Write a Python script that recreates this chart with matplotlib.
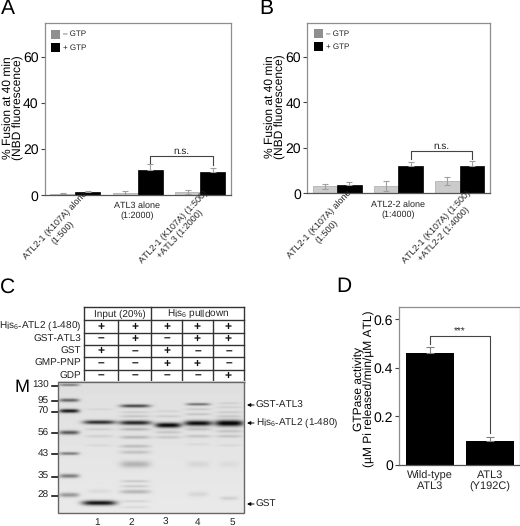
import matplotlib
matplotlib.use("Agg")
import matplotlib.pyplot as plt
import numpy as np

plt.rcParams['font.family'] = ['Liberation Sans', 'DejaVu Sans']
plt.rcParams['mathtext.default'] = 'regular'
plt.rcParams['text.hinting'] = 'no_hinting'
plt.rcParams['text.hinting_factor'] = 1

W, H = 520, 526

# panel A
a_minus = [0.7, 0.8, 1.5]
a_plus = [1.3, 11.0, 10.2]
a_minus_err = [0.3, 0.9, 1.0]
a_plus_err = [0.7, 2.5, 1.8]
# panel B
b_minus = [3.0, 3.4, 5.3]
b_plus = [3.5, 12.0, 11.8]
b_minus_err = [1.3, 2.2, 1.7]
b_plus_err = [1.3, 1.6, 2.2]
# panel D
d_vals = [0.46, 0.10]
d_err = [0.025, 0.017]
d_labels = ['Wild-type\nATL3', 'ATL3\n(Y192C)']

# panel C table
row_names = ['His$_6$-ATL2 (1-480)', 'GST-ATL3', 'GST', 'GMP-PNP', 'GDP']
row_signs = [['+', '+', '+', '+', '+'],
             ['–', '+', '–', '+', '+'],
             ['+', '–', '+', '–', '–'],
             ['–', '–', '+', '+', '–'],
             ['–', '–', '–', '–', '+']]
col_edges = [84.3, 118.3, 151.3, 182, 213, 244]
row_edges = [320.3, 332.7, 345, 357.3, 369.7, 382.3]
lane_x = [69, 99, 135, 168, 198, 229]
marker_kda = ['130', '95', '70', '56', '43', '35', '28']
marker_y = [385.7, 401, 411.7, 433.3, 454.3, 476.7, 495.7]
marker_dark = [0.4, 0.5, 0.8, 0.55, 0.42, 0.42, 0.32]
marker_thick = [1.2, 1.7, 1.9, 2.0, 1.5, 2.0, 2.2]
# lane index, half width, y, darkness, thickness
gel_bands = [
    (1, 16, 423, 0.72, 2.0), (2, 16, 423.5, 0.75, 2.2), (3, 13, 426, 0.88, 2.5),
    (4, 14, 424, 0.85, 2.6), (5, 14, 424, 0.92, 3.0),
    (1, 17, 503.7, 0.85, 2.4),
    (2, 15, 406.7, 0.62, 1.6), (4, 12, 405, 0.45, 1.3), (5, 11, 404, 0.08, 1.0),
    (1, 14, 410, 0.05, 1.0), (1, 14, 430, 0.09, 1.2), (1, 14, 437, 0.08, 1.4),
    (1, 13, 446, 0.05, 1.2), (1, 12, 492, 0.05, 2.0),
    (2, 15, 413, 0.08, 1.2), (2, 15, 417, 0.12, 1.2), (2, 15, 430, 0.18, 1.5),
    (2, 15, 438, 0.18, 1.6), (2, 15, 447, 0.16, 1.6), (2, 15, 453, 0.14, 1.8),
    (2, 15, 465, 0.2, 3.4), (2, 14, 482, 0.12, 1.2), (2, 14, 487, 0.12, 1.2),
    (2, 15, 492.5, 0.2, 2.0), (2, 14, 502, 0.08, 1.2), (2, 14, 508, 0.06, 1.2),
    (3, 13, 412, 0.06, 1.2), (3, 13, 417, 0.09, 1.2), (3, 13, 433, 0.12, 1.5),
    (3, 13, 438, 0.11, 1.5),
    (4, 13, 410, 0.09, 1.2), (4, 13, 415, 0.12, 1.2), (4, 13, 430, 0.13, 1.5),
    (4, 13, 437, 0.13, 1.5), (4, 12, 445, 0.05, 1.2), (4, 11, 465, 0.06, 3.0),
    (4, 10, 495, 0.07, 2.4),
    (5, 13, 408, 0.07, 1.2), (5, 13, 413, 0.09, 1.2), (5, 13, 417, 0.11, 1.2),
    (5, 13, 432, 0.13, 1.5), (5, 13, 437, 0.13, 1.5), (5, 12, 446, 0.05, 1.2),
    (5, 10, 465, 0.04, 3.0), (5, 9, 499, 0.1, 1.8),
]

fig = plt.figure(figsize=(W / 100, H / 100), dpi=100)
GR = '#8e8e8e'
LIGHT = '#cbcbcb'
LEG = '#8f8f8f'


def px_axes(left, right, top, bottom):
    return fig.add_axes([left / W, 1 - bottom / H, (right - left) / W, (bottom - top) / H])


def style(ax):
    for s in ax.spines.values():
        s.set_color(GR)
        s.set_linewidth(0.9)
    ax.spines['bottom'].set_color('#555555')
    ax.tick_params(axis='y', labelsize=10, length=3, width=0.8, color='#444444', pad=1.5)
    ax.set_xticks([])


def bars(ax, minus, plus, m_err, p_err):
    x = np.arange(3)
    ekw = dict(ecolor='#a0a0a0', elinewidth=0.8, capsize=2, capthick=0.8)
    ax.bar(x - 0.2, minus, 0.4, color=LIGHT, edgecolor='#aaaaaa', linewidth=0.5,
           yerr=m_err, error_kw=ekw)
    ax.bar(x + 0.2, plus, 0.4, color='black', edgecolor='black', linewidth=0.5,
           yerr=[[0, 0, 0], p_err], error_kw=ekw)
    ax.set_xlim(-0.49, 2.49)
    ax.set_ylim(0, 75)
    ax.set_yticks([0, 20, 40, 60])
    style(ax)


def bracket(ax, x0, x1, top, y0, y1, label, size=7):
    ax.plot([x0, x0, x1, x1], [y0, top, top, y1], color='#444444', lw=0.8)
    ax.text((x0 + x1) / 2, top, label, ha='center', va='bottom', fontsize=size, color='#222222')


ax_a = px_axes(44.7, 230.7, 22.7, 195.3)
bars(ax_a, a_minus, a_plus, a_minus_err, a_plus_err)
bracket(ax_a, 1.2, 2.2, 17, 14, 13, 'n.s.')

ax_b = px_axes(307, 489.7, 22.7, 193.3)
bars(ax_b, b_minus, b_plus, b_minus_err, b_plus_err)
bracket(ax_b, 1.2, 2.2, 18.7, 15.2, 15.2, 'n.s.')

ax_d = px_axes(399.3, 519.5, 307, 465)
ax_d.bar([0, 1], d_vals, 0.8, color='black', yerr=[[0, 0], d_err],
         error_kw=dict(ecolor='#808080', elinewidth=0.8, capsize=3, capthick=0.8))
ax_d.set_xlim(-0.52, 1.5)
ax_d.set_ylim(0, 0.651)
ax_d.set_yticks([0, 0.2, 0.4, 0.6], ['0', '0.2', '0.4', '0.6'])
style(ax_d)
bracket(ax_d, 0, 1, 0.53, 0.5, 0.13, '***', size=7)

# overlay in pixel coordinates for labels, table and gel
ov = fig.add_axes([0, 0, 1, 1], zorder=5)
ov.set_xlim(0, W)
ov.set_ylim(H, 0)
ov.axis('off')
ov.patch.set_alpha(0)

for t, x, y in [('A', 7.5, 8.5), ('B', 266, 8.5), ('C', 7.5, 287), ('D', 344, 287)]:
    ov.text(x, y, t, fontsize=15, ha='center', va='center')

for x0, y in [(7.5, 108), (269.5, 107)]:
    ov.text(x0, y, '% Fusion at 40 min', rotation=90, fontsize=8.3, ha='center', va='center')
    ov.text(x0 + 10.5, y, '(NBD fluorescence)', rotation=90, fontsize=8.3, ha='center', va='center')
ov.text(359, 389, 'GTPase activity', rotation=90, fontsize=8.3, ha='center', va='center')
ov.text(369.5, 389, '(µM Pi released/min/µM ATL)', rotation=90, fontsize=8.3, ha='center', va='center')

for x, y, c, t in [(51, 34, LEG, '– GTP'), (51, 47.5, 'black', '+ GTP'),
                   (313.5, 33.5, LEG, '– GTP'), (313.5, 46.5, 'black', '+ GTP')]:
    ov.add_patch(plt.Rectangle((x, y - 4.5), 9, 9, color=c, lw=0))
    ov.text(x + 12, y, t, fontsize=6.1, va='center', color='#222222')

xlabels = [
    ('ATL2-1 (K107A) alone\n(1:500)', 59, 229, 47), ('ATL3 alone\n(1:2000)', 137, 211, 0),
    ('ATL2-1 (K107A) (1:500)\n+ATL3 (1:2000)', 177, 231, 47),
    ('ATL2-1 (K107A) alone\n(1:500)', 323, 228, 47), ('ATL2-2 alone\n(1:4000)', 398, 210, 0),
    ('ATL2-1 (K107A) (1:500)\n+ATL2-2 (1:4000)', 440, 231, 47),
]
for t, x, y, r in xlabels:
    ov.text(x, y, t, rotation=r, fontsize=6.3, ha='center', va='center', multialignment='center',
            rotation_mode='anchor', color='#222222', clip_on=False, linespacing=1.3)

for x, t in zip([430.3, 489.8], d_labels):
    ov.text(x, 481, t, fontsize=7.6, ha='center', va='center', color='#222222', linespacing=1.1)

# table
LC = '#333333'
ov.plot([84.3, 244], [307.3, 307.3], color=LC, lw=1)
for y in row_edges:
    ov.plot([84.3, 244], [y, y], color=LC, lw=1)
for x in col_edges:
    top = 307.3 if x in (84.3, 151.3, 244) else 320.3
    ov.plot([x, x], [top, 382.3], color=LC, lw=1)
ov.text(120, 314, 'Input (20%)', fontsize=7.4, ha='center', va='center', color='#222222')
ov.text(198, 314, 'His$_6$ pulldown', fontsize=7.4, ha='center', va='center', color='#222222')
for i, name in enumerate(row_names):
    yc = (row_edges[i] + row_edges[i + 1]) / 2
    ov.text(81, yc, name, fontsize=7.3, ha='right', va='center', color='#222222')
    for j, s in enumerate(row_signs[i]):
        xc = (col_edges[j] + col_edges[j + 1]) / 2
        ov.text(xc, yc, s, fontsize=8.5, ha='center', va='center', fontweight='bold', color='#111111')

# gel
gx = np.arange(58, 245, 0.5)
gy = np.arange(382, 514, 0.5)
xx, yy = np.meshgrid(gx, gy)
dark = np.zeros_like(xx)
for yb, d, th in zip(marker_y, marker_dark, marker_thick):
    dark += d * np.exp(-((xx - lane_x[0]) / 10) ** 4) * np.exp(-((yy - yb) / th) ** 2)
for lane, hw, yb, d, th in gel_bands:
    dark += d * np.exp(-((xx - lane_x[lane]) / hw) ** 4) * np.exp(-((yy - yb) / th) ** 2)
base = 0.875 + 0.04 * (yy - 382) / 132
img = np.clip(base - dark, 0.03, 1)
ov.imshow(img, cmap='gray', vmin=0, vmax=1, extent=(58, 244.5, 513.5, 382), aspect='auto',
          interpolation='bilinear', zorder=2)
ov.add_patch(plt.Rectangle((58, 382.3), 186.3, 131, fill=False, ec='#666666', lw=1, zorder=3))
ov.set_xlim(0, W)
ov.set_ylim(H, 0)

ov.text(22, 387, 'M', fontsize=13, ha='center', va='center')
for t, y in zip(marker_kda, marker_y):
    ov.text(49, y, t, fontsize=7.2, ha='right', va='center', color='#222222')
    ov.plot([52, 58], [y, y], color='black', lw=1.1)
for i, x in enumerate([97, 131, 165, 198, 232]):
    ov.text(x, 522, str(i + 1), fontsize=7.2, ha='center', va='center', color='#222222')
for t, y in [('GST-ATL3', 405), ('His$_6$-ATL2 (1-480)', 423), ('GST', 504)]:
    ov.annotate('', xy=(247, y), xytext=(254, y),
                arrowprops=dict(arrowstyle='-|>', color='black', lw=0.7, mutation_scale=5,
                                shrinkA=0, shrinkB=0))
    ov.text(255.5, y, t, fontsize=7.3, va='center', color='#222222')

fig.savefig('out.png', dpi=100)
